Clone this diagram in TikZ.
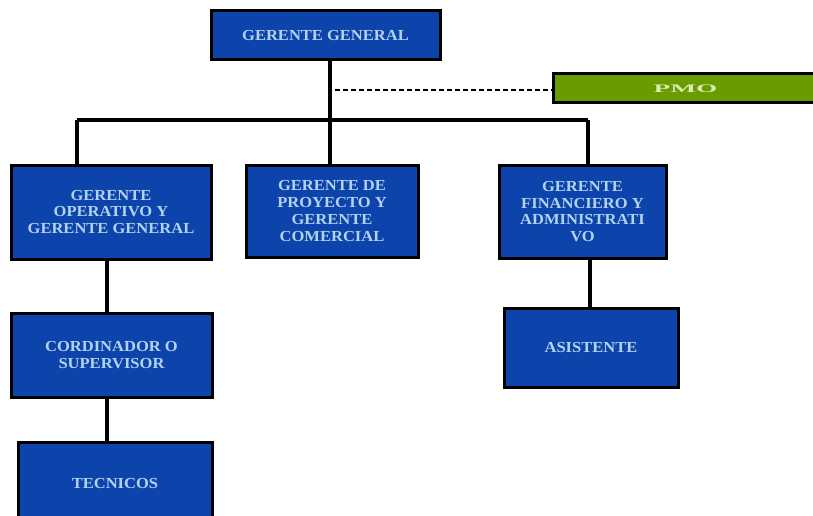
\documentclass[tikz,border=0pt]{standalone}
\usepackage{fontspec}
\setmainfont{Liberation Serif}[FakeStretch=1.08]
\usepackage{graphicx}
\definecolor{boxblue}{RGB}{12,68,172}
\definecolor{boxtext}{RGB}{178,210,240}
\definecolor{pmogreen}{RGB}{106,156,0}
\definecolor{pmotext}{RGB}{215,235,180}
\tikzset{
  orgbox/.style={draw=black, line width=3pt, fill=boxblue, text=boxtext,
    font=\bfseries\fontsize{15.3}{16.8}\selectfont, align=center, inner sep=2pt},
  pmobox/.style={draw=black, line width=3pt, fill=pmogreen, text=pmotext,
    font=\bfseries\fontsize{11.5}{12}\selectfont, inner sep=0pt},
  link/.style={draw=black, line width=3.5pt},
  dashlink/.style={draw=black, line width=2pt, dash pattern=on 5pt off 3pt}
}
\begin{document}
\begin{tikzpicture}[x=1pt,y=-1pt]
\useasboundingbox (0,0) rectangle (813,516);
\clip (0,0) rectangle (813,516);
\fill[white] (0,0) rectangle (813,516);

% coordinates for the main bar
\coordinate (j0) at (330,120);
\coordinate (jl) at (77,120);
\coordinate (jr) at (588,120);
\coordinate (cdrop) at (107,0);
\coordinate (adrop) at (590,0);
\coordinate (dstart) at (335,90);

% boxes
\node[orgbox, minimum width=229pt, minimum height=49pt] (gg) at (325.5,35.5) {GERENTE GENERAL};
\node[pmobox, minimum width=265pt, minimum height=29pt] (pmo) at (685.5,88.5) {\scalebox{2.2}[1]{PMO}};
\node[orgbox, minimum width=200pt, minimum height=94pt] (op) at (111,212) {GERENTE\\OPERATIVO Y\\GERENTE GENERAL};
\node[orgbox, minimum width=172pt, minimum height=92pt] (pc) at (332,211) {GERENTE DE\\PROYECTO Y\\GERENTE\\COMERCIAL};
\node[orgbox, minimum width=167pt, minimum height=93pt] (fa) at (582.5,211.5) {GERENTE\\FINANCIERO Y\\ADMINISTRATI\\VO};
\node[orgbox, minimum width=174pt, minimum height=79pt] (as) at (591,347.5) {ASISTENTE};
\node[orgbox, minimum width=201pt, minimum height=84pt] (co) at (111.5,355) {CORDINADOR O\\SUPERVISOR};
\node[orgbox, minimum width=194pt, minimum height=88pt] (te) at (115,486) {\raisebox{6pt}{TECNICOS}};

% connectors
\path[link] (gg.south -| j0) -- (j0);
\path[link] (jl) -- (jr);
\path[link] (jl) -- (jl |- op.north);
\path[link] (j0) -- (j0 |- pc.north);
\path[link] (jr) -- (jr |- fa.north);
\path[link] (cdrop |- op.south) -- (cdrop |- co.north);
\path[link] (cdrop |- co.south) -- (cdrop |- te.north);
\path[link] (adrop |- fa.south) -- (adrop |- as.north);
\path[dashlink] (dstart) -- (pmo.west |- dstart);
\end{tikzpicture}
\end{document}
